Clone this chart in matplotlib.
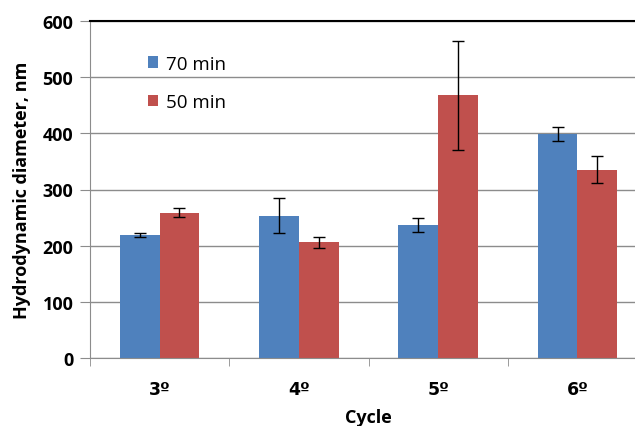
import numpy as np
import matplotlib
matplotlib.use('Agg')
import matplotlib.pyplot as plt

plt.rcParams['font.family'] = ['Open Sans', 'DejaVu Sans']

# data
cycles = ['3º', '4º', '5º', '6º']
min70 = [219, 253, 237, 399]
min70_err = [3, 31, 12, 13]
min50 = [259, 206, 468, 335]
min50_err = [8, 10, 97, 24]

blue = '#4F81BD'
red = '#C0504D'

fig = plt.figure(figsize=(6.35, 4.27), dpi=100)
ax = fig.add_axes([90/635, 1-359/427, 557/635, 337/427])

x = np.arange(len(cycles))
w = 0.285
ax.bar(x - w/2, min70, w, color=blue, label='70 min', zorder=2)
ax.bar(x + w/2, min50, w, color=red, label='50 min', zorder=2)
ax.errorbar(x - w/2, min70, yerr=min70_err, fmt='none', ecolor='black',
            elinewidth=1, capsize=4, capthick=1, zorder=3)
ax.errorbar(x + w/2, min50, yerr=min50_err, fmt='none', ecolor='black',
            elinewidth=1, capsize=4, capthick=1, zorder=3)

ax.set_xlim(-0.5, 3.5)
ax.set_ylim(0, 600)
ax.set_yticks([0, 100, 200, 300, 400, 500, 600])
ax.yaxis.grid(True, color='#8c8c8c', linewidth=1, zorder=0)
ax.set_axisbelow(True)

ax.set_xticks(x)
ax.set_xticklabels(cycles, fontsize=12.5, fontweight='bold', family=['DejaVu Sans'])
ax.set_xticks(np.arange(-0.5, 4, 1), minor=True)
ax.tick_params(axis='x', which='major', length=0, pad=16)
ax.tick_params(axis='x', which='minor', length=6, color='#8c8c8c', direction='out')
ax.tick_params(axis='y', length=7, color='#8c8c8c', labelsize=13, pad=5)
for lab in ax.get_yticklabels():
    lab.set_fontweight('bold')

for s in ['left', 'bottom']:
    ax.spines[s].set_color('#8c8c8c')
ax.spines['right'].set_visible(False)
ax.spines['top'].set_color('black')
ax.spines['top'].set_linewidth(1.5)

ax.set_ylabel('Hydrodynamic diameter, nm', fontsize=13, fontweight='bold', labelpad=8)
ax.set_xlabel('Cycle', fontsize=13, fontweight='bold', labelpad=7)

ax.legend(loc='upper left', bbox_to_anchor=(0.074, 0.95), frameon=False,
          fontsize=13.5, handlelength=0.55, handleheight=0.55, handletextpad=0.4,
          labelspacing=1.07)

fig.savefig('out.png', dpi=100)
